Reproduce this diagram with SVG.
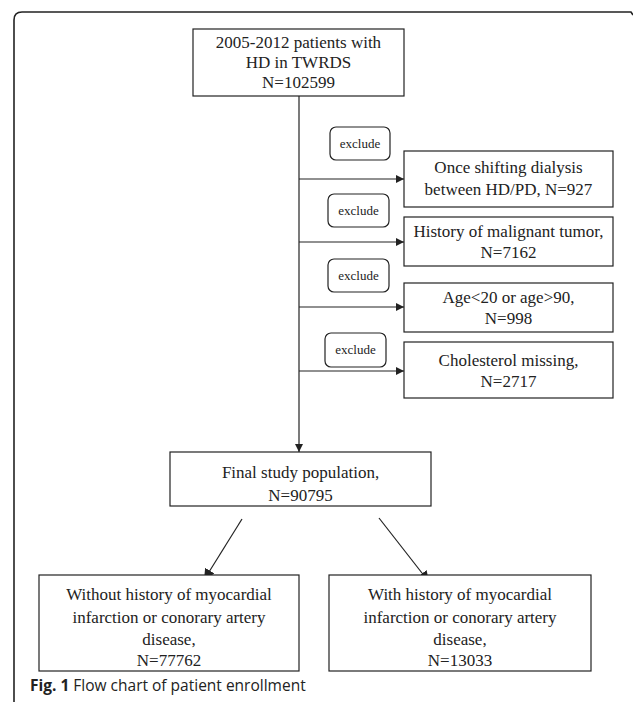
<svg xmlns="http://www.w3.org/2000/svg" width="633" height="704" viewBox="0 0 633 704">
<style>
.box{fill:#fff;stroke:#222;stroke-width:1.2}
.ex{fill:#fff;stroke:#222;stroke-width:1.2}
.t{font-family:"Liberation Serif","Times New Roman",serif;font-size:17px;fill:#222;text-anchor:middle}
.s{font-family:"Liberation Serif","Times New Roman",serif;font-size:13px;fill:#222;text-anchor:middle}
.ln{stroke:#222;stroke-width:1.2;fill:none}
.cap{font-family:"Open Sans","Noto Sans",sans-serif;font-size:15.5px;fill:#222}
</style>
<defs>
<marker id="ah" viewBox="0 0 10 10" refX="10" refY="5" markerWidth="8" markerHeight="8" markerUnits="userSpaceOnUse" orient="auto"><path d="M0,0 L10,5 L0,10 z" fill="#222"/></marker>
<marker id="ah2" viewBox="0 0 10 10" refX="10" refY="5" markerWidth="11" markerHeight="11" markerUnits="userSpaceOnUse" orient="auto"><path d="M0,0 L10,5 L0,10 z" fill="#222"/></marker>
</defs>
<rect width="633" height="704" fill="#fff"/>
<path d="M14,702 L14,20 Q14,12 22,12 L631,12 L633,15" fill="none" stroke="#222" stroke-width="1.6"/>

<g id="connectors">
<line class="ln" x1="299" y1="96" x2="299" y2="452" marker-end="url(#ah)"/>
<line class="ln" x1="299" y1="179" x2="404" y2="179" marker-end="url(#ah)"/>
<line class="ln" x1="299" y1="242" x2="404" y2="242" marker-end="url(#ah)"/>
<line class="ln" x1="299" y1="307" x2="404" y2="307" marker-end="url(#ah)"/>
<line class="ln" x1="299" y1="371" x2="404" y2="371" marker-end="url(#ah)"/>
<line class="ln" x1="242" y1="519" x2="204" y2="580" marker-end="url(#ah2)"/>
<line class="ln" x1="379" y1="518" x2="429" y2="582" marker-end="url(#ah2)"/>
</g>

<g id="start">
<rect class="box" x="193" y="29" width="211" height="67"/>
<text class="t" x="298.5" y="48">2005-2012 patients with</text>
<text class="t" x="298.5" y="68">HD in TWRDS</text>
<text class="t" x="298.5" y="88">N=102599</text>
</g>

<g id="exclude1"><rect class="ex" x="330" y="127" width="60" height="33" rx="6"/><text class="s" x="360" y="148">exclude</text></g>
<g id="exclude2"><rect class="ex" x="328" y="194" width="61" height="33" rx="6"/><text class="s" x="358.5" y="215">exclude</text></g>
<g id="exclude3"><rect class="ex" x="328" y="259" width="61" height="33" rx="6"/><text class="s" x="358.5" y="280">exclude</text></g>
<g id="exclude4"><rect class="ex" x="325" y="333" width="61" height="34" rx="6"/><text class="s" x="355.5" y="354">exclude</text></g>

<g id="shift">
<rect class="box" x="404" y="151" width="209" height="56"/>
<text class="t" x="508.5" y="173">Once shifting dialysis</text>
<text class="t" x="508.5" y="195">between HD/PD, N=927</text>
</g>
<g id="tumor">
<rect class="box" x="404" y="217" width="209" height="49"/>
<text class="t" x="508.5" y="237">History of malignant tumor,</text>
<text class="t" x="508.5" y="258">N=7162</text>
</g>
<g id="age">
<rect class="box" x="404" y="283" width="209" height="49"/>
<text class="t" x="508.5" y="303">Age&lt;20 or age&gt;90,</text>
<text class="t" x="508.5" y="324">N=998</text>
</g>
<g id="chol">
<rect class="box" x="404" y="342" width="209" height="56"/>
<text class="t" x="508.5" y="366">Cholesterol missing,</text>
<text class="t" x="508.5" y="387">N=2717</text>
</g>

<g id="final">
<rect class="box" x="170" y="452" width="261" height="54"/>
<text class="t" x="300.5" y="478">Final study population,</text>
<text class="t" x="300.5" y="501">N=90795</text>
</g>

<g id="without">
<rect class="box" x="39" y="575" width="260" height="96"/>
<text class="t" x="169" y="600">Without history of myocardial</text>
<text class="t" x="169" y="623">infarction or conorary artery</text>
<text class="t" x="169" y="645">disease,</text>
<text class="t" x="169" y="666">N=77762</text>
</g>
<g id="with">
<rect class="box" x="329" y="575" width="262" height="96"/>
<text class="t" x="460" y="600">With history of myocardial</text>
<text class="t" x="460" y="623">infarction or conorary artery</text>
<text class="t" x="460" y="645">disease,</text>
<text class="t" x="460" y="666">N=13033</text>
</g>

<text class="cap" x="30" y="691"><tspan font-weight="bold">Fig. 1</tspan> Flow chart of patient enrollment</text>
</svg>
